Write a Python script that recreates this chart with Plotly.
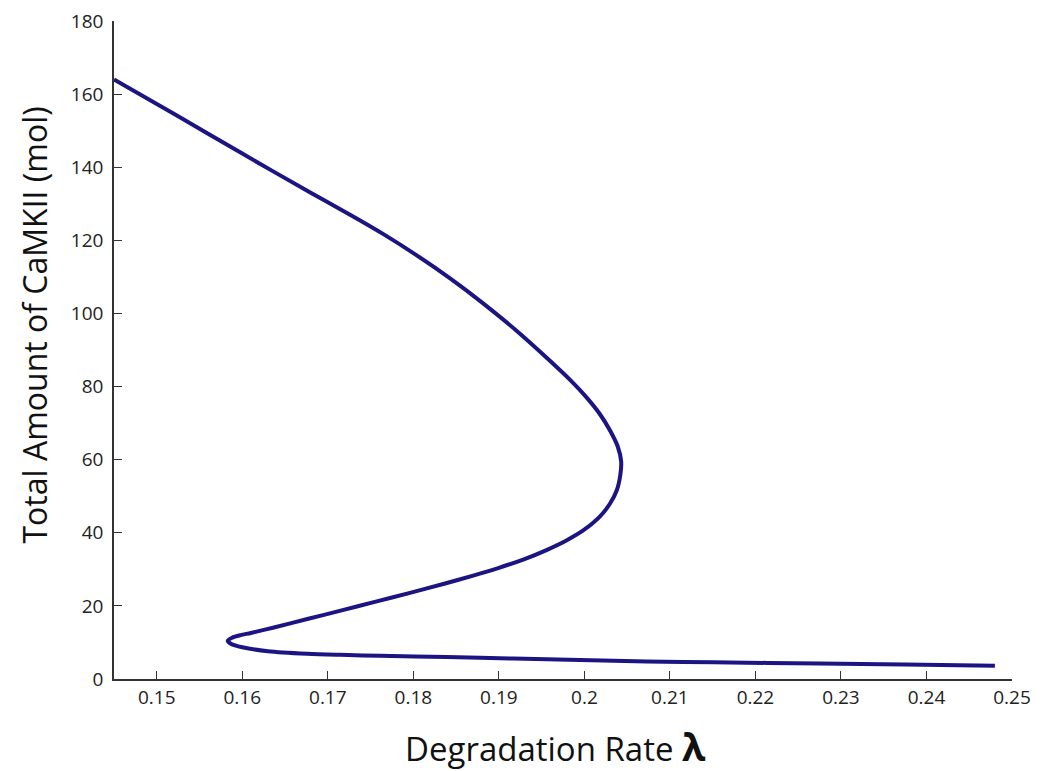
import plotly.graph_objects as go

# Curve (degradation rate vs total CaMKII)
lam = [0.1450, 0.1524, 0.1598, 0.1680, 0.1726, 0.1765, 0.1804, 0.1843, 0.1882, 0.1921,
       0.1960, 0.1983, 0.2003, 0.2018, 0.2030, 0.2039, 0.2043, 0.2042, 0.2038, 0.2030,
       0.2018, 0.1999, 0.1979, 0.1955, 0.1930, 0.1900, 0.1870, 0.1835, 0.1795, 0.1755,
       0.1715, 0.1676, 0.1637, 0.1610, 0.1598, 0.1588, 0.1583, 0.1587, 0.1600, 0.1630,
       0.1676, 0.1715, 0.1761, 0.1839, 0.1917, 0.1995, 0.2073, 0.2151, 0.2275, 0.2375, 0.2480]
camkii = [164.0, 154.1, 144.0, 133.0, 127.0, 121.7, 115.9, 109.6, 102.7, 95.2,
          87.0, 81.9, 76.9, 72.5, 68.0, 63.6, 59.5, 55.8, 51.7, 48.0,
          44.4, 40.7, 37.9, 35.2, 32.8, 30.4, 28.3, 26.0, 23.5, 21.1,
          18.7, 16.4, 14.1, 12.6, 12.0, 11.3, 10.5, 9.6, 8.7, 7.6,
          6.9, 6.6, 6.35, 6.0, 5.6, 5.2, 4.8, 4.55, 4.25, 3.95, 3.64]

x_ticks = [0.15, 0.16, 0.17, 0.18, 0.19, 0.2, 0.21, 0.22, 0.23, 0.24, 0.25]
x_tick_text = ["0.15", "0.16", "0.17", "0.18", "0.19", "0.2", "0.21", "0.22", "0.23", "0.24", "0.25"]
y_ticks = [0, 20, 40, 60, 80, 100, 120, 140, 160, 180]

font_family = "Open Sans, Arial, sans-serif"

fig = go.Figure()
fig.add_trace(go.Scatter(
    x=lam, y=camkii, mode="lines",
    line=dict(color="#1c1483", width=4, shape="spline", smoothing=0.8),
    showlegend=False, hoverinfo="skip",
))

# the page body adds ~8px offset; size the figure so it reaches the window edge
OFF = 8
W, H = 1042 - 2 * OFF, 771 - OFF
L, T = 113.5 - OFF, 21 - OFF
Rpx, Bpx = 1012 - OFF, 679 - OFF
R, B = W - Rpx, H - Bpx
pw, ph = Rpx - L, Bpx - T

fig.update_layout(
    width=W, height=H,
    margin=dict(l=L, r=R, t=T, b=B),
    paper_bgcolor="white", plot_bgcolor="white",
    font=dict(family=font_family, color="#222222"),
    annotations=[
        dict(text="Degradation Rate <span style='font-size:38px'><b>λ</b></span>",
             xref="paper", yref="paper", x=(403 - OFF - L) / pw, y=(Bpx - (746 - OFF)) / ph,
             xanchor="left", yanchor="middle", showarrow=False,
             font=dict(size=33, family=font_family, color="#111111")),
        dict(text="Total Amount of CaMKII (mol)", textangle=-90,
             xref="paper", yref="paper", x=(34 - OFF - L) / pw, y=(Bpx - (325 - OFF)) / ph,
             xanchor="center", yanchor="middle", showarrow=False,
             font=dict(size=32, family=font_family, color="#111111")),
    ],
)

fig.update_xaxes(
    range=[0.145, 0.25], tickvals=x_ticks, ticktext=x_tick_text,
    ticks="inside", ticklen=8, tickwidth=1.2, tickcolor="#333333",
    showline=True, linecolor="#333333", linewidth=1.6,
    showgrid=False, zeroline=False, automargin=False,
    ticklabelstandoff=0, ticklabeloverflow="allow",
    tickfont=dict(size=19, family=font_family, color="#222222"),
)
fig.update_yaxes(
    range=[0, 180], tickvals=y_ticks,
    ticks="inside", ticklen=8, tickwidth=1.2, tickcolor="#333333",
    showline=True, linecolor="#333333", linewidth=1.6,
    showgrid=False, zeroline=False, automargin=False,
    ticklabelstandoff=5, ticklabeloverflow="allow",
    tickfont=dict(size=19, family=font_family, color="#222222"),
)

fig.write_html("out.html")
